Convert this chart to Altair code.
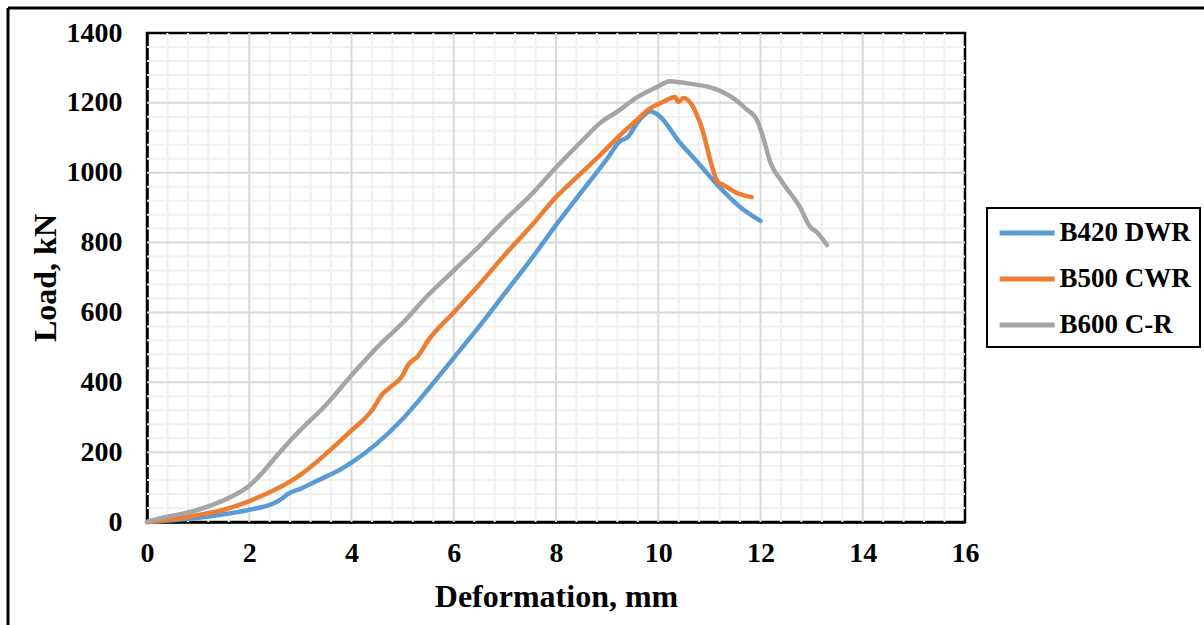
import altair as alt
import pandas as pd

# Load-deformation curves of the three beams (deformation in mm, load in kN)
b420_def = [0, 0.5, 1.0, 1.5, 2.0, 2.5, 2.65, 2.75, 3.0, 3.5, 3.65, 4.0, 4.5, 5.0, 5.5,
            6.0, 6.5, 7.0, 7.5, 8.0, 8.5, 9.0, 9.25, 9.4, 9.6, 9.85, 10.0, 10.43, 10.8,
            11.07, 11.6, 12.0]
b420_load = [0, 5, 12, 22, 35, 55, 68, 80, 95, 130, 140, 170, 225, 295, 380,
             470, 560, 655, 750, 850, 945, 1040, 1090, 1102, 1145, 1175, 1165, 1085, 1025,
             979, 902, 862]

b500_def = [0, 0.5, 1.0, 1.5, 2.0, 2.5, 3.0, 3.5, 4.0, 4.4, 4.6, 4.75, 5.0, 5.1, 5.3,
            5.5, 6.0, 6.5, 7.0, 7.5, 8.0, 8.5, 8.86, 9.2, 9.58, 9.8, 10.1, 10.33, 10.39,
            10.49, 10.66, 10.82, 11.17, 11.27, 11.54, 11.83]
b500_load = [0, 8, 20, 35, 60, 92, 135, 195, 262, 320, 365, 385, 420, 448, 475,
             520, 600, 680, 765, 845, 930, 1000, 1050, 1100, 1151, 1180, 1203, 1217, 1203,
             1214, 1194, 1142, 973, 965, 942, 930]

b600_def = [0, 0.3, 0.5, 1.0, 1.5, 1.75, 2.0, 2.25, 2.5, 2.75, 3.0, 3.5, 4.0, 4.5, 5.0,
            5.5, 6.0, 6.5, 7.0, 7.5, 8.0, 8.5, 8.86, 9.25, 9.5, 9.97, 10.23, 10.6, 11.0,
            11.2, 11.46, 11.7, 11.93, 12.05, 12.19, 12.44, 12.77, 12.97, 13.1, 13.3]
b600_load = [0, 12, 18, 35, 62, 80, 104, 140, 183, 225, 263, 335, 420, 500, 570,
             650, 720, 790, 865, 935, 1015, 1090, 1142, 1180, 1208, 1245, 1262, 1255, 1245,
             1235, 1214, 1185, 1151, 1102, 1031, 970, 902, 845, 830, 793]

series_names = ["B420 DWR", "B500 CWR", "B600 C-R"]
series_colors = ["#5b9bd5", "#ed7d31", "#a5a5a5"]

x_ticks = [0, 2, 4, 6, 8, 10, 12, 14, 16]
y_ticks = [0, 200, 400, 600, 800, 1000, 1200, 1400]

rows = []
for name, xs, ys in zip(series_names,
                        [b420_def, b500_def, b600_def],
                        [b420_load, b500_load, b600_load]):
    for i, (d, l) in enumerate(zip(xs, ys)):
        rows.append({"series": name, "deformation": d, "load": l, "order": i})
curves = pd.DataFrame(rows)

# grid lines: major at the tick values, minor at one fifth of a step
major_x = pd.DataFrame({"deformation": x_ticks[1:-1]})
major_y = pd.DataFrame({"load": y_ticks[1:-1]})
minor_x = pd.DataFrame({"deformation": [i * 0.4 for i in range(1, 40) if i % 5]})
minor_y = pd.DataFrame({"load": [i * 40 for i in range(1, 35) if i % 5]})

FONT = "Liberation Serif"
x_scale = alt.Scale(domain=[0, 16], nice=False, zero=False)
y_scale = alt.Scale(domain=[0, 1400], nice=False)
x_axis = alt.Axis(values=x_ticks, title="Deformation, mm", grid=False, ticks=False,
                  labelFlush=False, labelOverlap=False, labelPadding=17, format="d",
                  titleY=59, titleBaseline="top")
y_axis = alt.Axis(values=y_ticks, title="Load, kN", grid=False, ticks=False,
                  labelOverlap=False, labelPadding=25, format="d",
                  titleX=-92, titleY=244.5, titleBaseline="alphabetic")
X = alt.X("deformation:Q", scale=x_scale, axis=x_axis)
Y = alt.Y("load:Q", scale=y_scale, axis=y_axis)

minor_v = alt.Chart(minor_x).mark_rule(color="#f0f0f0", strokeWidth=2).encode(x=X)
minor_h = alt.Chart(minor_y).mark_rule(color="#f0f0f0", strokeWidth=2).encode(y=Y)
major_v = alt.Chart(major_x).mark_rule(color="#d9d9d9", strokeWidth=2).encode(x=X)
major_h = alt.Chart(major_y).mark_rule(color="#d9d9d9", strokeWidth=2).encode(y=Y)

lines = alt.Chart(curves).mark_line(
    strokeWidth=4.5, strokeCap="round", strokeJoin="round", interpolate="monotone"
).encode(
    x=X,
    y=Y,
    color=alt.Color("series:N", scale=alt.Scale(domain=series_names, range=series_colors),
                    legend=alt.Legend(title=None, orient="none", legendX=840, legendY=175)),
    order="order:Q",
)

# outer frame around the figure (top and left edges)
one = pd.DataFrame({"a": [0]})
frame_top = alt.Chart(one).mark_rule(color="black", strokeWidth=3).encode(
    x=alt.value(-139), x2=alt.value(1100), y=alt.value(-25))
frame_left = alt.Chart(one).mark_rule(color="black", strokeWidth=3).encode(
    x=alt.value(-139), y=alt.value(-25), y2=alt.value(640))

chart = alt.layer(minor_v, minor_h, major_v, major_h, lines, frame_top, frame_left).properties(
    width=818, height=489,
    padding={"left": 147, "top": 33, "right": 239, "bottom": 103},
    autosize=alt.AutoSizeParams(type="none"),
).configure_view(
    stroke="black", strokeWidth=2.5
).configure_axis(
    labelFont=FONT, labelFontSize=28, labelFontWeight="bold", labelColor="black",
    titleFont=FONT, titleFontSize=32, titleFontWeight="bold", titleColor="black",
    domainColor="black", domainWidth=2.5,
).configure_legend(
    labelFont=FONT, labelFontSize=27, labelFontWeight="bold", labelColor="black",
    # a long horizontal stroke starting at the left edge of the symbol column
    symbolType="M-0.9,0L3.1,0", symbolSize=756, symbolStrokeWidth=5,
    strokeColor="black", strokeWidth=2, fillColor="white",
    padding=8.5, rowPadding=16, labelOffset=31, cornerRadius=0,
)

chart.save("out.html", embed_options={"renderer": "svg", "actions": False})
